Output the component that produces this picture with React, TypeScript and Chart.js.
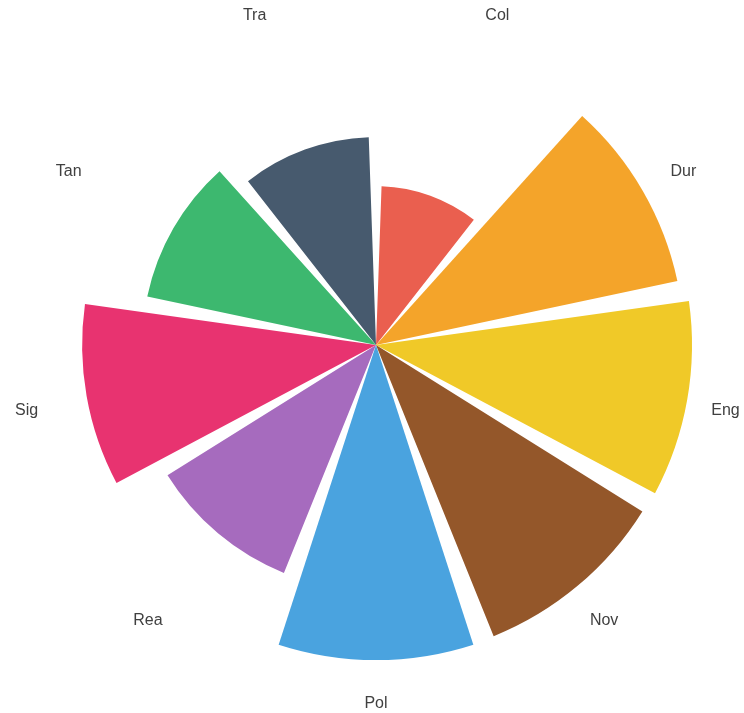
import React, { useEffect, useRef } from "react";
import { Chart, registerables } from "chart.js";

Chart.register(...registerables);

const categories = ["Col", "Dur", "Eng", "Nov", "Pol", "Rea", "Sig", "Tan", "Tra"];
const values = [50.3, 97.5, 100, 99.4, 99.7, 77.8, 93.0, 74.0, 65.8];
const colors = ["#EA5F4F", "#F4A42A", "#F0C928", "#94572A", "#4AA3DF", "#A66BBE", "#E83370", "#3DB86F", "#475A6E"];

const wedgeDegrees = 36;
const gapDegrees = 4;
const labelValue = 112.3;

export default function App() {
  const ref = useRef<HTMLCanvasElement | null>(null);

  useEffect(() => {
    if (!ref.current) return;
    const data: number[] = [];
    const bg: string[] = [];
    const labels: string[] = [];
    categories.forEach((c, i) => {
      data.push(values[i]);
      bg.push(colors[i]);
      labels.push(c);
      data.push(0);
      bg.push("rgba(0,0,0,0)");
      labels.push("");
    });

    const labelPlugin = {
      id: "roseLabels",
      afterDatasetsDraw(chart: any) {
        const scale = chart.scales.r;
        const ctx = chart.ctx;
        const dist = scale.getDistanceFromCenterForValue(labelValue);
        ctx.save();
        ctx.font = '16px "Liberation Sans", Arial, sans-serif';
        ctx.fillStyle = "#404040";
        ctx.textAlign = "center";
        ctx.textBaseline = "middle";
        const n = categories.length;
        categories.forEach((c, i) => {
          const a = -Math.PI / 2 + ((i + 0.5) * 2 * Math.PI) / n;
          const x = scale.xCenter + Math.cos(a) * dist;
          const y = scale.yCenter + 4 + Math.sin(a) * dist;
          ctx.fillText(c, x, y);
        });
        ctx.restore();
      },
    };

    const chart = new Chart(ref.current, {
      type: "polarArea",
      data: {
        labels,
        datasets: [
          {
            data,
            backgroundColor: bg,
            borderWidth: 0,
            angle: (ctx: any) => (ctx.dataIndex % 2 === 0 ? wedgeDegrees : gapDegrees),
          } as any,
        ],
      },
      options: {
        responsive: false,
        animation: false,
        devicePixelRatio: 1,
        layout: { padding: { left: 60, right: 52, top: 29, bottom: 52 } },
        plugins: { legend: { display: false }, tooltip: { enabled: false } },
        scales: {
          r: {
            min: 0,
            max: 100,
            startAngle: gapDegrees / 2,
            grid: { display: false },
            angleLines: { display: false },
            ticks: { display: false },
            pointLabels: { display: false },
          },
        },
      },
      plugins: [labelPlugin],
    });
    return () => chart.destroy();
  }, []);

  return (
    <div style={{ position: "absolute", left: 0, top: 0, width: 744, height: 713, background: "#fff" }}>
      <canvas ref={ref} width={744} height={713} />
    </div>
  );
}
